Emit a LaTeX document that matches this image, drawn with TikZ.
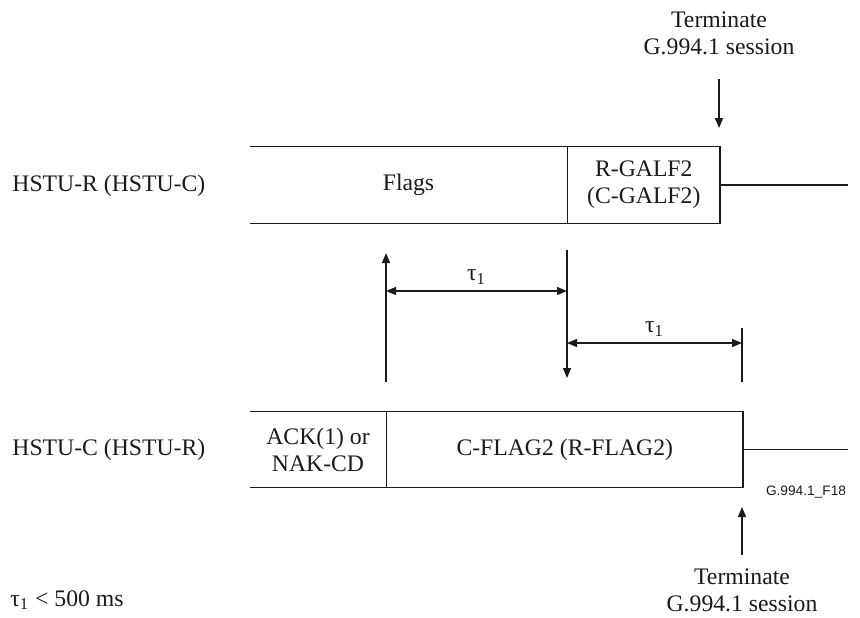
\documentclass[tikz,border=0pt]{standalone}
\usepackage{fontspec}
\setmainfont{Liberation Serif}
\setsansfont{Liberation Sans}
\usetikzlibrary{arrows.meta,positioning}
\definecolor{ink}{HTML}{1A1A1A}
\newcommand{\figfont}{\fontsize{11.85}{13.5}\selectfont}

\begin{document}
\begin{tikzpicture}[x=0.5pt,y=-0.5pt,
  field/.style={inner sep=0pt,align=center,font=\figfont,text=ink},
  frame/.style={draw=ink,line width=0.85pt},
  marker/.style={draw=ink,line width=0.65pt},
  tip/.style={marker,-{Triangle[length=5pt,width=4pt]}},
  span/.style={marker,{Triangle[length=5pt,width=4pt]}-{Triangle[length=5pt,width=4pt]}}]
  \useasboundingbox (0,0) rectangle (860,617);

  \node[field,minimum width=158.5pt,minimum height=38pt] (flags) at (408.5,185) {Flags};
  \node[field,minimum width=76pt,minimum height=38pt,right=0pt of flags] (galf) {R-GALF2\\(C-GALF2)};
  \node[field,minimum width=68pt,minimum height=37.5pt] (ack) at (318,449.5) {ACK(1) or\\NAK-CD};
  \node[field,minimum width=178pt,minimum height=37.5pt,right=0pt of ack] (cflag) {C-FLAG2 (R-FLAG2)};

  \node[field,anchor=west] (hstur) at (12,186) {HSTU-R (HSTU-C)};
  \node[field,anchor=west] (hstuc) at (12,450) {HSTU-C (HSTU-R)};
  \node[field] (termtop) at (719,33) {Terminate\\G.994.1 session};
  \node[field] (termbot) at (742,590) {Terminate\\G.994.1 session};
  \node[field,font=\sffamily\fontsize{6.85}{8}\selectfont] (figid) at (806,492) {G.994.1\_F18};
  \node[field,anchor=west] (note) at (10,600) {τ\textsubscript{1} < 500 ms};

  \coordinate (tailR) at (848,185);
  \coordinate (tailC) at (848,449.5);
  \coordinate (topA) at (719,79);
  \coordinate (topB) at (719,128);
  \coordinate (upB) at (386,382);
  \coordinate (upT) at (386,253);
  \coordinate (dnT) at (567,250);
  \coordinate (dnB) at (567,378);
  \coordinate (endT) at (742,328);
  \coordinate (endB) at (742,382);
  \coordinate (botA) at (742,555);
  \coordinate (botB) at (742,507);
  \coordinate (sp1L) at (386,291);
  \coordinate (sp1R) at (567,291);
  \coordinate (sp2L) at (567,343);
  \coordinate (sp2R) at (742,343);

  \draw[frame] (flags.north west) -- (galf.north east) -- (galf.south east) -- (flags.south west);
  \draw[frame] (galf.north west) -- (galf.south west);
  \draw[frame] (galf.east) -- (tailR);
  \draw[frame] (ack.north west) -- (cflag.north east) -- (cflag.south east) -- (ack.south west);
  \draw[frame] (ack.north east) -- (ack.south east);
  \draw[frame] (cflag.east) -- (tailC);

  \draw[tip] (topA) -- (topB);
  \draw[tip] (upB) -- (upT);
  \draw[tip] (dnT) -- (dnB);
  \draw[marker] (endT) -- (endB);
  \draw[tip] (botA) -- (botB);
  \draw[span] (sp1L) -- node[field,above=3pt] (tau1) {τ\textsubscript{1}} (sp1R);
  \draw[span] (sp2L) -- node[field,above=3pt] (tau2) {τ\textsubscript{1}} (sp2R);
\end{tikzpicture}
\end{document}
